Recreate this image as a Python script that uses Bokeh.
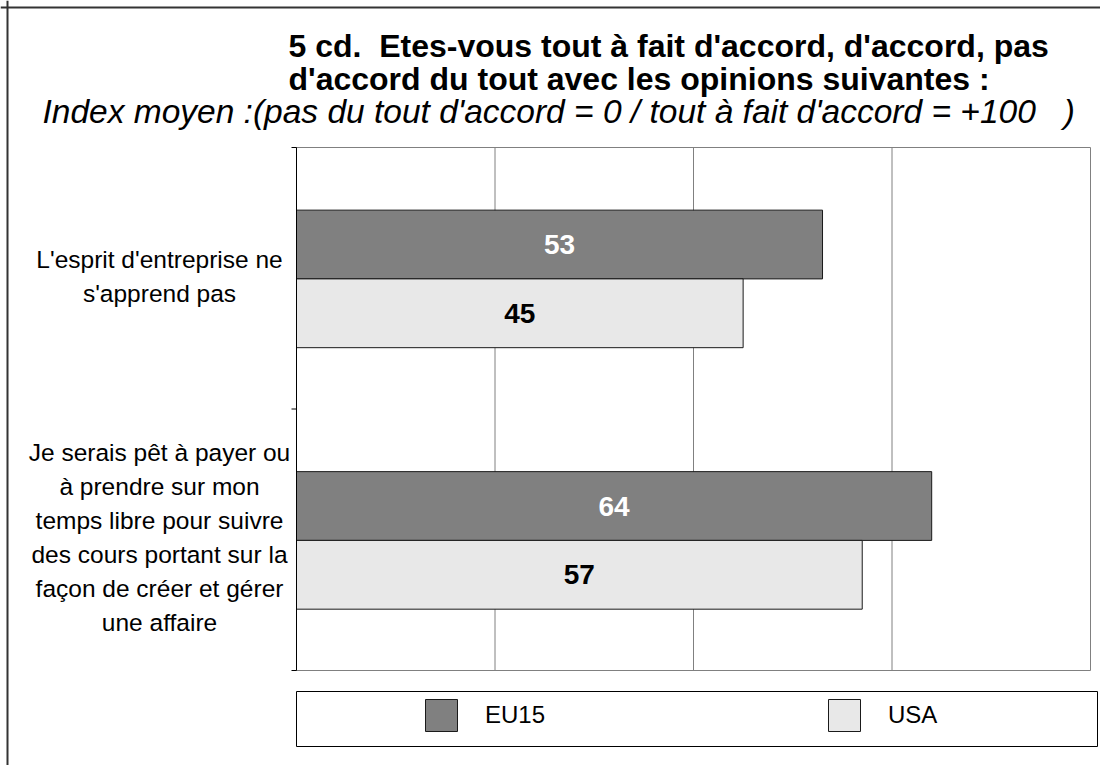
from bokeh.plotting import figure
from bokeh.models import Range1d, Label, Legend, LegendItem, BoxAnnotation, Span, ColumnDataSource
from bokeh.core.properties import value
from bokeh.embed import file_html
from bokeh.resources import INLINE

# ---------------- data ----------------
title_lines = ["5 cd.\u00a0 Etes-vous tout à fait d'accord, d'accord, pas",
               "d'accord du tout avec les opinions suivantes :"]
subtitle = "Index moyen :(pas du tout d'accord = 0 / tout à fait d'accord = +100\u00a0\u00a0\u00a0)"
categories = ["L'esprit d'entreprise ne\ns'apprend pas",
              "Je serais pêt à payer ou\nà prendre sur mon\ntemps libre pour suivre\ndes cours portant sur la\nfaçon de créer et gérer\nune affaire"]
series = ["EU15", "USA"]
eu15 = [53, 64]
usa = [45, 57]
x_ticks = [0, 20, 40, 60, 80]

# ---------------- layout (pixels from the page's top-left) ----------------
FONT = "Liberation Sans"
W, H = 1100, 765
PF_L, PF_R, PF_T, PF_B = 296, 1090, 147, 670   # plot area
NCAT = len(categories)
KX = (PF_R - PF_L) / (x_ticks[-1] - x_ticks[0])  # px per unit
KY = (PF_B - PF_T) / NCAT                        # px per category band


def sx(px):
    return px


def sy(py):
    return H - py


x_range = Range1d(x_ticks[0] - PF_L / KX, x_ticks[-1] + (W - PF_R) / KX)
y_range = Range1d(NCAT + (H - PF_B) / KY, -PF_T / KY)   # reversed: first category on top

p = figure(width=W, height=H, output_backend="svg", toolbar_location=None,
           x_range=x_range, y_range=y_range,
           x_axis_location=None, y_axis_location=None, title=None,
           min_border=0)
p.min_border_left = p.min_border_right = p.min_border_top = p.min_border_bottom = 0
p.background_fill_color = "white"
p.border_fill_color = "white"
p.outline_line_color = None
p.xgrid.visible = False
p.ygrid.visible = False

# plot area: vertical grid lines and gray outline
inner = x_ticks[1:-1]
p.segment(x0=inner, x1=inner, y0=[0] * len(inner), y1=[NCAT] * len(inner),
          line_color="#808080", line_width=1)
p.quad(left=[x_ticks[0]], right=[x_ticks[-1]], top=[0], bottom=[NCAT],
       fill_color=None, line_color="#808080", line_width=1)

# bars
centers = [i + 0.5 for i in range(NCAT)]
BAR_H = 0.263
eu_y = [c - 0.129 for c in centers]
us_y = [c + 0.134 for c in centers]
src = ColumnDataSource(dict(
    eu_y=eu_y, us_y=us_y, eu15=eu15, usa=usa,
    eu_x=[v / 2 for v in eu15], us_x=[v / 2 for v in usa],
    eu_t=[str(v) for v in eu15], us_t=[str(v) for v in usa]))

r_eu = p.hbar(y="eu_y", left=0, right="eu15", height=BAR_H, source=src,
              fill_color="#808080", line_color="#1a1a1a", line_width=1)
r_us = p.hbar(y="us_y", left=0, right="usa", height=BAR_H, source=src,
              fill_color="#e8e8e8", line_color="#1a1a1a", line_width=1)

p.text(x="eu_x", y="eu_y", text="eu_t", source=src, text_align="center", text_baseline="middle",
       text_font=value(FONT), text_font_style="bold", text_font_size="28px", text_color="white")
p.text(x="us_x", y="us_y", text="us_t", source=src, text_align="center", text_baseline="middle",
       text_font=value(FONT), text_font_style="bold", text_font_size="28px", text_color="black")

# y axis: black line with outward ticks at category boundaries
bounds = list(range(NCAT + 1))
p.segment(x0=[x_ticks[0]], x1=[x_ticks[0]], y0=[0], y1=[NCAT], line_color="black", line_width=1)
p.segment(x0=[x_ticks[0]] * len(bounds), x1=[x_ticks[0] - 5 / KX] * len(bounds),
          y0=bounds, y1=bounds, line_color="black", line_width=1)

# category labels
LINE_H = 34
for c, cat in zip(centers, categories):
    lines = cat.split("\n")
    n = len(lines)
    for k, line in enumerate(lines):
        p.add_layout(Label(x=sx(159), x_units="screen", y=c, y_units="data",
                           y_offset=((n - 1) / 2 - k) * LINE_H + 2,
                           text=line, text_align="center", text_baseline="middle",
                           text_font=FONT, text_font_size="24.5px", text_color="black"))

# titles
p.add_layout(Label(x=sx(288), y=sy(45), x_units="screen", y_units="screen", text=title_lines[0],
                   text_align="left", text_baseline="middle", text_font=FONT,
                   text_font_style="bold", text_font_size="32px", text_color="black"))
p.add_layout(Label(x=sx(288), y=sy(78), x_units="screen", y_units="screen", text=title_lines[1],
                   text_align="left", text_baseline="middle", text_font=FONT,
                   text_font_style="bold", text_font_size="32px", text_color="black"))
p.add_layout(Label(x=sx(42), y=sy(111), x_units="screen", y_units="screen", text=subtitle,
                   text_align="left", text_baseline="middle", text_font=FONT,
                   text_font_style="italic", text_font_size="33.5px", text_color="black"))

# legend box and outer border (left and top edges)
p.add_layout(BoxAnnotation(left=sx(296), right=sx(1097), top=sy(691), bottom=sy(746),
                           left_units="screen", right_units="screen", top_units="screen", bottom_units="screen",
                           fill_alpha=0, line_color="black", line_alpha=1, line_width=1))
p.add_layout(Span(location=sx(7), location_units="screen", dimension="height",
                  line_color="#333333", line_width=2, line_dash="solid"))
p.add_layout(Span(location=sy(7), location_units="screen", dimension="width",
                  line_color="#333333", line_width=2, line_dash="solid"))

legend = Legend(items=[LegendItem(label=series[0], renderers=[r_eu]),
                       LegendItem(label=series[1], renderers=[r_us])],
                location=(sx(421), sy(735)), orientation="horizontal",
                glyph_width=40, glyph_height=40, label_standoff=24, label_width=329, spacing=10,
                padding=0, margin=0, border_line_color=None, background_fill_alpha=0,
                label_text_font=FONT, label_text_font_size="24px", label_text_color="black")
p.add_layout(legend, "center")

open("out.html", "w").write(file_html(p, INLINE))
